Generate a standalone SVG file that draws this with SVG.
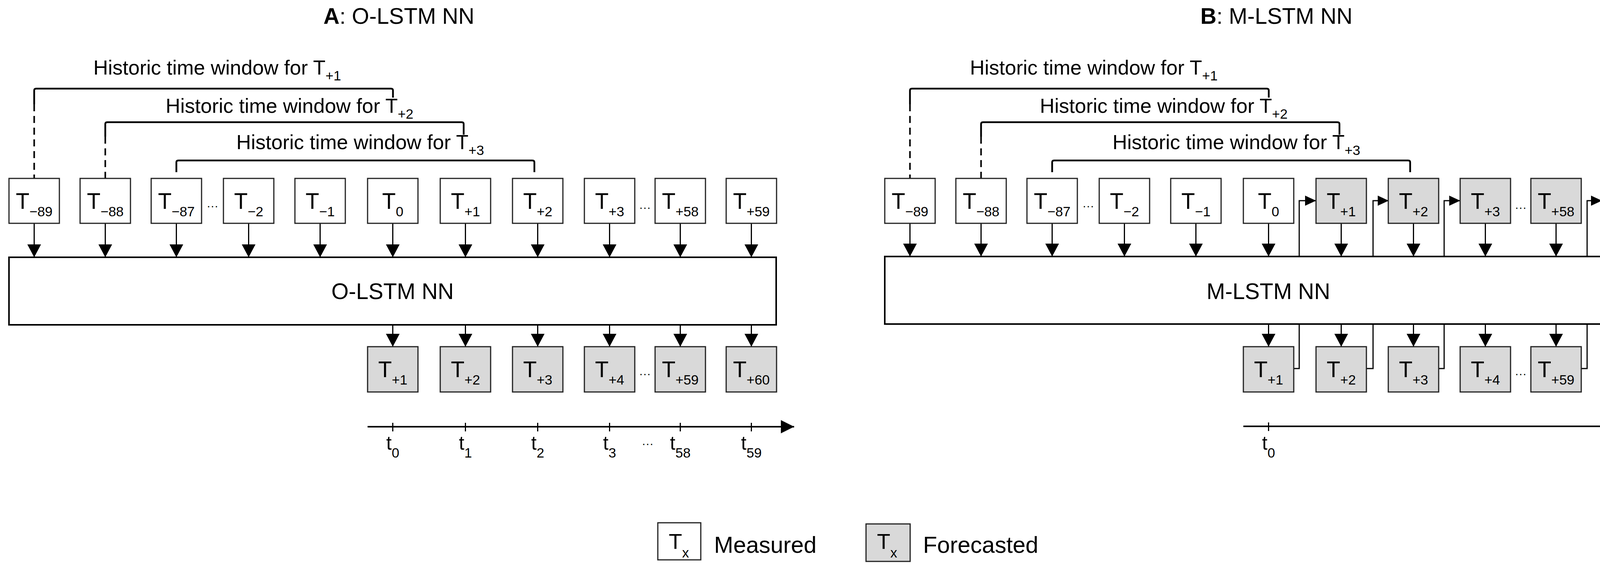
<svg xmlns="http://www.w3.org/2000/svg" width="4298" height="1460" viewBox="0 0 4298 1460">
<style>
text{font-family:"Liberation Sans",Arial,sans-serif;fill:#000}
.bx{fill:#fff;stroke:#222;stroke-width:3}
.fc{fill:#d9d9d9;stroke:#222;stroke-width:3}
.nn{fill:#fff;stroke:#000;stroke-width:4}
.t{font-size:57px;text-anchor:middle}
.s{font-size:35px}
.ln{fill:none;stroke:#000;stroke-width:3}
.br{fill:none;stroke:#000;stroke-width:4.5}
.ds{fill:none;stroke:#000;stroke-width:4;stroke-dasharray:18 12}
.hist{font-size:52px}
.dots{font-size:30px;text-anchor:middle}
.ax{font-size:50px;text-anchor:middle}
</style>
<defs>
<marker id="ah" markerUnits="userSpaceOnUse" markerWidth="34" markerHeight="36" refX="33" refY="17.5" orient="auto"><path d="M0,0 L33,17.5 L0,35 z" fill="#000"/></marker>
<marker id="ahs" markerUnits="userSpaceOnUse" markerWidth="30" markerHeight="28" refX="28" refY="13" orient="auto"><path d="M0,0 L28,13 L0,26 z" fill="#000"/></marker>
<marker id="axh" markerUnits="userSpaceOnUse" markerWidth="36" markerHeight="36" refX="34" refY="17" orient="auto"><path d="M0,0 L34,17 L0,34 z" fill="#000"/></marker>
</defs>

<!-- ================= PANEL A ================= -->
<g id="panelA">
<text id="titleA" x="828" y="61" font-size="57"><tspan font-weight="bold">A</tspan>: O-LSTM NN</text>

<g id="windowsA">
<text class="hist" x="239" y="191">Historic time window for T<tspan class="s" dy="15">+1</tspan></text>
<path class="br" d="M87.5,267 V232 Q87.5,227 92.5,227 H1001 Q1006,227 1006,232 V250"/>
<line class="ds" x1="87.5" y1="267" x2="87.5" y2="457"/>
<text class="hist" x="424" y="289">Historic time window for T<tspan class="s" dy="15">+2</tspan></text>
<path class="br" d="M269.5,350 V318 Q269.5,313 274.5,313 H1182 Q1187,313 1187,318 V345"/>
<line class="ds" x1="269.5" y1="350" x2="269.5" y2="457"/>
<text class="hist" x="605" y="382">Historic time window for T<tspan class="s" dy="15">+3</tspan></text>
<path class="br" d="M451.5,441 V416 Q451.5,411 456.5,411 H1363 Q1368,411 1368,416 V441"/>
</g>

<g id="connectorsA">
<line class="ln" x1="87.5" y1="572" x2="87.5" y2="659" marker-end="url(#ah)"/>
<line class="ln" x1="269.5" y1="572" x2="269.5" y2="659" marker-end="url(#ah)"/>
<line class="ln" x1="451.5" y1="572" x2="451.5" y2="659" marker-end="url(#ah)"/>
<line class="ln" x1="636.5" y1="572" x2="636.5" y2="659" marker-end="url(#ah)"/>
<line class="ln" x1="819.5" y1="572" x2="819.5" y2="659" marker-end="url(#ah)"/>
<line class="ln" x1="1005.5" y1="572" x2="1005.5" y2="659" marker-end="url(#ah)"/>
<line class="ln" x1="1191.5" y1="572" x2="1191.5" y2="659" marker-end="url(#ah)"/>
<line class="ln" x1="1376.5" y1="572" x2="1376.5" y2="659" marker-end="url(#ah)"/>
<line class="ln" x1="1560.5" y1="572" x2="1560.5" y2="659" marker-end="url(#ah)"/>
<line class="ln" x1="1741.5" y1="572" x2="1741.5" y2="659" marker-end="url(#ah)"/>
<line class="ln" x1="1923.5" y1="572" x2="1923.5" y2="659" marker-end="url(#ah)"/>
<line class="ln" x1="1005.5" y1="832" x2="1005.5" y2="888" marker-end="url(#ah)"/>
<line class="ln" x1="1191.5" y1="832" x2="1191.5" y2="888" marker-end="url(#ah)"/>
<line class="ln" x1="1376.5" y1="832" x2="1376.5" y2="888" marker-end="url(#ah)"/>
<line class="ln" x1="1560.5" y1="832" x2="1560.5" y2="888" marker-end="url(#ah)"/>
<line class="ln" x1="1741.5" y1="832" x2="1741.5" y2="888" marker-end="url(#ah)"/>
<line class="ln" x1="1923.5" y1="832" x2="1923.5" y2="888" marker-end="url(#ah)"/>
</g>

<g id="nnA"><rect class="nn" x="23" y="659" width="1964" height="173"/><text x="1005" y="766" font-size="57" text-anchor="middle">O-LSTM NN</text></g>

<g id="inA">
<g id="a_in_m89"><rect class="bx" x="23" y="457" width="129" height="115"/><text class="t" x="87.5" y="535">T<tspan class="s" dy="19">−89</tspan></text></g>
<g id="a_in_m88"><rect class="bx" x="205" y="457" width="129" height="115"/><text class="t" x="269.5" y="535">T<tspan class="s" dy="19">−88</tspan></text></g>
<g id="a_in_m87"><rect class="bx" x="387" y="457" width="129" height="115"/><text class="t" x="451.5" y="535">T<tspan class="s" dy="19">−87</tspan></text></g>
<g id="a_in_m2"><rect class="bx" x="572" y="457" width="129" height="115"/><text class="t" x="636.5" y="535">T<tspan class="s" dy="19">−2</tspan></text></g>
<g id="a_in_m1"><rect class="bx" x="755" y="457" width="129" height="115"/><text class="t" x="819.5" y="535">T<tspan class="s" dy="19">−1</tspan></text></g>
<g id="a_in_0"><rect class="bx" x="941" y="457" width="129" height="115"/><text class="t" x="1005.5" y="535">T<tspan class="s" dy="19">0</tspan></text></g>
<g id="a_in_p1"><rect class="bx" x="1127" y="457" width="129" height="115"/><text class="t" x="1191.5" y="535">T<tspan class="s" dy="19">+1</tspan></text></g>
<g id="a_in_p2"><rect class="bx" x="1312" y="457" width="129" height="115"/><text class="t" x="1376.5" y="535">T<tspan class="s" dy="19">+2</tspan></text></g>
<g id="a_in_p3"><rect class="bx" x="1496" y="457" width="129" height="115"/><text class="t" x="1560.5" y="535">T<tspan class="s" dy="19">+3</tspan></text></g>
<g id="a_in_p58"><rect class="bx" x="1677" y="457" width="129" height="115"/><text class="t" x="1741.5" y="535">T<tspan class="s" dy="19">+58</tspan></text></g>
<g id="a_in_p59"><rect class="bx" x="1859" y="457" width="129" height="115"/><text class="t" x="1923.5" y="535">T<tspan class="s" dy="19">+59</tspan></text></g>
<text class="dots" x="544" y="537">···</text>
<text class="dots" x="1651" y="541">···</text>
</g>

<g id="outA">
<g id="a_out_p1"><rect class="fc" x="941" y="888" width="129" height="116"/><text class="t" x="1005.5" y="966">T<tspan class="s" dy="19">+1</tspan></text></g>
<g id="a_out_p2"><rect class="fc" x="1127" y="888" width="129" height="116"/><text class="t" x="1191.5" y="966">T<tspan class="s" dy="19">+2</tspan></text></g>
<g id="a_out_p3"><rect class="fc" x="1312" y="888" width="129" height="116"/><text class="t" x="1376.5" y="966">T<tspan class="s" dy="19">+3</tspan></text></g>
<g id="a_out_p4"><rect class="fc" x="1496" y="888" width="129" height="116"/><text class="t" x="1560.5" y="966">T<tspan class="s" dy="19">+4</tspan></text></g>
<g id="a_out_p59"><rect class="fc" x="1677" y="888" width="129" height="116"/><text class="t" x="1741.5" y="966">T<tspan class="s" dy="19">+59</tspan></text></g>
<g id="a_out_p60"><rect class="fc" x="1859" y="888" width="129" height="116"/><text class="t" x="1923.5" y="966">T<tspan class="s" dy="19">+60</tspan></text></g>
<text class="dots" x="1651" y="967">···</text>
</g>

<g id="axisA">
<line x1="941" y1="1093" x2="2033" y2="1093" stroke="#000" stroke-width="4" marker-end="url(#axh)"/>
<path class="ln" d="M1005.5,1083V1105M1191.5,1083V1105M1376.5,1083V1105M1560.5,1083V1105M1741.5,1083V1105M1923.5,1083V1105"/>
<text class="ax" x="1005.5" y="1152">t<tspan class="s" dy="20">0</tspan></text>
<text class="ax" x="1191.5" y="1152">t<tspan class="s" dy="20">1</tspan></text>
<text class="ax" x="1376.5" y="1152">t<tspan class="s" dy="20">2</tspan></text>
<text class="ax" x="1560.5" y="1152">t<tspan class="s" dy="20">3</tspan></text>
<text class="ax" x="1741.5" y="1152">t<tspan class="s" dy="20">58</tspan></text>
<text class="ax" x="1923.5" y="1152">t<tspan class="s" dy="20">59</tspan></text>
<text class="dots" x="1658" y="1146">···</text>
</g>
</g>

<!-- ================= PANEL B ================= -->
<g id="panelB">
<text id="titleB" x="3073" y="61" font-size="57"><tspan font-weight="bold">B</tspan>: M-LSTM NN</text>

<g id="windowsB" transform="translate(2242,0)">
<text class="hist" x="241" y="191">Historic time window for T<tspan class="s" dy="15">+1</tspan></text>
<path class="br" d="M87.5,267 V232 Q87.5,227 92.5,227 H1001 Q1006,227 1006,232 V250"/>
<line class="ds" x1="87.5" y1="267" x2="87.5" y2="457"/>
<text class="hist" x="420" y="289">Historic time window for T<tspan class="s" dy="15">+2</tspan></text>
<path class="br" d="M269.5,350 V318 Q269.5,313 274.5,313 H1182 Q1187,313 1187,318 V345"/>
<line class="ds" x1="269.5" y1="350" x2="269.5" y2="457"/>
<text class="hist" x="606" y="382">Historic time window for T<tspan class="s" dy="15">+3</tspan></text>
<path class="br" d="M451.5,441 V416 Q451.5,411 456.5,411 H1363 Q1368,411 1368,416 V441"/>
</g>

<g id="connectorsB">
<line class="ln" x1="2329.5" y1="572" x2="2329.5" y2="657" marker-end="url(#ah)"/>
<line class="ln" x1="2511.5" y1="572" x2="2511.5" y2="657" marker-end="url(#ah)"/>
<line class="ln" x1="2693.5" y1="572" x2="2693.5" y2="657" marker-end="url(#ah)"/>
<line class="ln" x1="2878.5" y1="572" x2="2878.5" y2="657" marker-end="url(#ah)"/>
<line class="ln" x1="3061.5" y1="572" x2="3061.5" y2="657" marker-end="url(#ah)"/>
<line class="ln" x1="3247.5" y1="572" x2="3247.5" y2="657" marker-end="url(#ah)"/>
<line class="ln" x1="3433.5" y1="572" x2="3433.5" y2="657" marker-end="url(#ah)"/>
<line class="ln" x1="3618.5" y1="572" x2="3618.5" y2="657" marker-end="url(#ah)"/>
<line class="ln" x1="3802.5" y1="572" x2="3802.5" y2="657" marker-end="url(#ah)"/>
<line class="ln" x1="3983.5" y1="572" x2="3983.5" y2="657" marker-end="url(#ah)"/>
<line class="ln" x1="4165.5" y1="572" x2="4165.5" y2="657" marker-end="url(#ah)"/>
<line class="ln" x1="3247.5" y1="830" x2="3247.5" y2="888" marker-end="url(#ah)"/>
<line class="ln" x1="3433.5" y1="830" x2="3433.5" y2="888" marker-end="url(#ah)"/>
<line class="ln" x1="3618.5" y1="830" x2="3618.5" y2="888" marker-end="url(#ah)"/>
<line class="ln" x1="3802.5" y1="830" x2="3802.5" y2="888" marker-end="url(#ah)"/>
<line class="ln" x1="3983.5" y1="830" x2="3983.5" y2="888" marker-end="url(#ah)"/>
<line class="ln" x1="4165.5" y1="830" x2="4165.5" y2="888" marker-end="url(#ah)"/>
<path class="ln" d="M3312,944 H3326 V514 H3369" marker-end="url(#ahs)"/>
<path class="ln" d="M3497,944 H3515 V514 H3555" marker-end="url(#ahs)"/>
<path class="ln" d="M3683,944 H3697 V514 H3738" marker-end="url(#ahs)"/>
<path class="ln" d="M4047,944 H4063 V514 H4101" marker-end="url(#ahs)"/>
</g>

<g id="nnB"><rect class="nn" x="2265" y="657" width="1964" height="173"/><text x="3247" y="766" font-size="57" text-anchor="middle">M-LSTM NN</text></g>

<g id="inB">
<g id="b_in_m89"><rect class="bx" x="2265" y="457" width="129" height="115"/><text class="t" x="2329.5" y="535">T<tspan class="s" dy="19">−89</tspan></text></g>
<g id="b_in_m88"><rect class="bx" x="2447" y="457" width="129" height="115"/><text class="t" x="2511.5" y="535">T<tspan class="s" dy="19">−88</tspan></text></g>
<g id="b_in_m87"><rect class="bx" x="2629" y="457" width="129" height="115"/><text class="t" x="2693.5" y="535">T<tspan class="s" dy="19">−87</tspan></text></g>
<g id="b_in_m2"><rect class="bx" x="2814" y="457" width="129" height="115"/><text class="t" x="2878.5" y="535">T<tspan class="s" dy="19">−2</tspan></text></g>
<g id="b_in_m1"><rect class="bx" x="2997" y="457" width="129" height="115"/><text class="t" x="3061.5" y="535">T<tspan class="s" dy="19">−1</tspan></text></g>
<g id="b_in_0"><rect class="bx" x="3183" y="457" width="129" height="115"/><text class="t" x="3247.5" y="535">T<tspan class="s" dy="19">0</tspan></text></g>
<g id="b_in_p1"><rect class="fc" x="3369" y="457" width="129" height="115"/><text class="t" x="3433.5" y="535">T<tspan class="s" dy="19">+1</tspan></text></g>
<g id="b_in_p2"><rect class="fc" x="3554" y="457" width="129" height="115"/><text class="t" x="3618.5" y="535">T<tspan class="s" dy="19">+2</tspan></text></g>
<g id="b_in_p3"><rect class="fc" x="3738" y="457" width="129" height="115"/><text class="t" x="3802.5" y="535">T<tspan class="s" dy="19">+3</tspan></text></g>
<g id="b_in_p58"><rect class="fc" x="3919" y="457" width="129" height="115"/><text class="t" x="3983.5" y="535">T<tspan class="s" dy="19">+58</tspan></text></g>
<g id="b_in_p59"><rect class="fc" x="4101" y="457" width="129" height="115"/><text class="t" x="4165.5" y="535">T<tspan class="s" dy="19">+59</tspan></text></g>
<text class="dots" x="2786" y="537">···</text>
<text class="dots" x="3893" y="541">···</text>
</g>

<g id="outB">
<g id="b_out_p1"><rect class="fc" x="3183" y="888" width="129" height="116"/><text class="t" x="3247.5" y="966">T<tspan class="s" dy="19">+1</tspan></text></g>
<g id="b_out_p2"><rect class="fc" x="3369" y="888" width="129" height="116"/><text class="t" x="3433.5" y="966">T<tspan class="s" dy="19">+2</tspan></text></g>
<g id="b_out_p3"><rect class="fc" x="3554" y="888" width="129" height="116"/><text class="t" x="3618.5" y="966">T<tspan class="s" dy="19">+3</tspan></text></g>
<g id="b_out_p4"><rect class="fc" x="3738" y="888" width="129" height="116"/><text class="t" x="3802.5" y="966">T<tspan class="s" dy="19">+4</tspan></text></g>
<g id="b_out_p59"><rect class="fc" x="3919" y="888" width="129" height="116"/><text class="t" x="3983.5" y="966">T<tspan class="s" dy="19">+59</tspan></text></g>
<g id="b_out_p60"><rect class="fc" x="4101" y="888" width="129" height="116"/><text class="t" x="4165.5" y="966">T<tspan class="s" dy="19">+60</tspan></text></g>
<text class="dots" x="3893" y="967">···</text>
</g>

<g id="axisB">
<line x1="3183" y1="1092" x2="4275" y2="1092" stroke="#000" stroke-width="4" marker-end="url(#axh)"/>
<path class="ln" d="M3247.5,1082V1104M4165.5,1082V1104"/>
<text class="ax" x="3247.5" y="1152">t<tspan class="s" dy="20">0</tspan></text>
<text class="ax" x="4165.5" y="1152">t<tspan class="s" dy="20">1</tspan></text>
</g>
</g>

<!-- ================= LEGEND ================= -->
<g id="legend">
<g id="leg_measured"><rect class="bx" x="1684" y="1339" width="110" height="95"/><text x="1712" y="1406" font-size="56">T<tspan class="s" dy="22">x</tspan></text><text x="1828" y="1416" font-size="59">Measured</text></g>
<g id="leg_forecast"><rect class="fc" x="2217" y="1342" width="113" height="96"/><text x="2245" y="1406" font-size="56">T<tspan class="s" dy="22">x</tspan></text><text x="2363" y="1416" font-size="59">Forecasted</text></g>
</g>
</svg>
